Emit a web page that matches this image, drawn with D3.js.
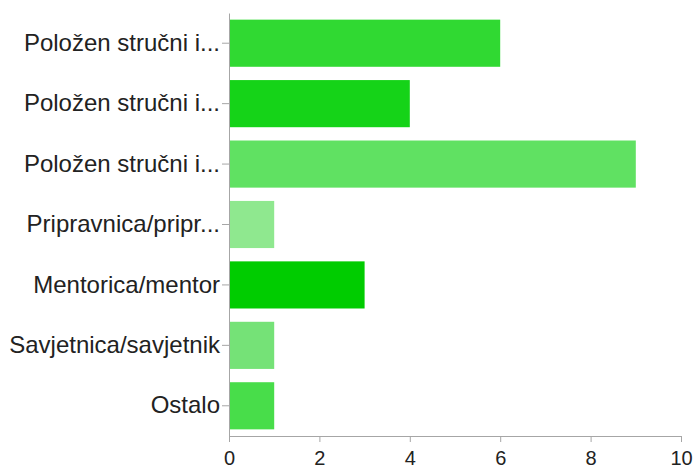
<!DOCTYPE html>
<html>
<head>
<meta charset="utf-8">
<script src="https://cdn.jsdelivr.net/npm/d3@7"></script>
<style>
  body { margin: 0; background: #fff; }
  .axis path, .axis line { stroke: #a6a6a6; }
  .axis text { font-family: "Liberation Sans", Arial, Helvetica, sans-serif; fill: #222; }
</style>
</head>
<body>
<div id="chart"></div>
<script>
  const width = 697,
    height = 468,
    margin = { top: 13, bottom: 32, left: 229, right: 16 };

  // data
  const categories = [
    "Položen stručni i...",
    "Položen stručni i... ",
    "Položen stručni i...  ",
    "Pripravnica/pripr...",
    "Mentorica/mentor",
    "Savjetnica/savjetnik",
    "Ostalo"
  ];
  const values = [6, 4, 9, 1, 3, 1, 1];
  const colors = ["#30d932", "#15d318", "#60e162", "#8fe88f", "#00cc00", "#75e277", "#48dd4a"];
  const xTicks = [0, 2, 4, 6, 8, 10];

  const data = categories.map((c, i) => ({ cat: c, value: values[i], color: colors[i] }));

  const svg = d3.select("#chart")
    .append("svg")
    .attr("width", width)
    .attr("height", height);

  const yScale = d3.scaleBand()
    .domain(categories)
    .range([margin.top, height - margin.bottom])
    .paddingInner(0.22)
    .paddingOuter(0.11);

  const xScale = d3.scaleLinear()
    .domain([0, 10])
    .range([margin.left, width - margin.right]);

  // bars
  svg.selectAll("rect")
    .data(data)
    .join("rect")
    .attr("x", xScale(0))
    .attr("y", d => yScale(d.cat))
    .attr("width", d => xScale(d.value) - xScale(0))
    .attr("height", yScale.bandwidth())
    .attr("fill", d => d.color);

  svg.append("g")
    .attr("class", "axis x-axis")
    .attr("transform", `translate(0,${height - margin.bottom})`)
    .call(d3.axisBottom(xScale).tickValues(xTicks).tickSize(6).tickPadding(9).tickSizeOuter(6))
    .call(g => g.selectAll("text").style("font-size", "20px"));

  svg.append("g")
    .attr("class", "axis y-axis")
    .attr("transform", `translate(${margin.left},0)`)
    .call(d3.axisLeft(yScale).tickSize(7).tickPadding(2).tickSizeOuter(0))
    .call(g => g.selectAll("text").style("font-size", "24px").text(d => d.trim()));
</script>
</body>
</html>
